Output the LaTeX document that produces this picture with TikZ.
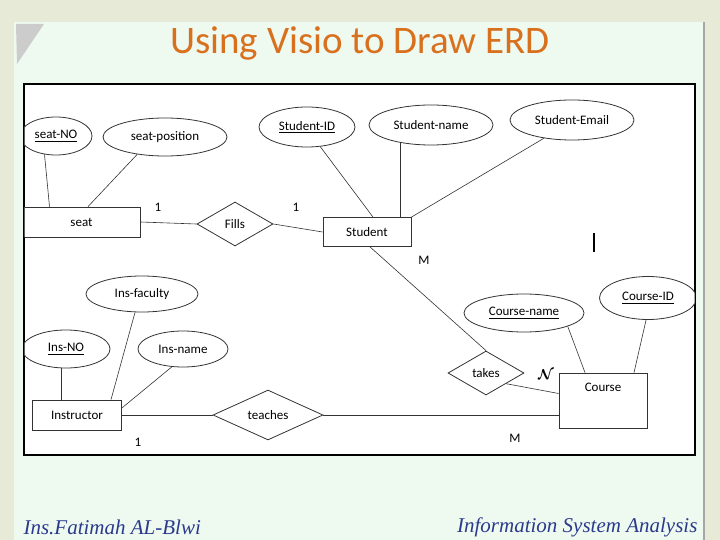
\documentclass[tikz,border=0pt]{standalone}
\usepackage{amsmath}
\usepackage{fontspec}
\setmainfont{Carlito}
\newfontfamily\footfont{Liberation Serif}
\usetikzlibrary{shapes.geometric,backgrounds}

\definecolor{slideMint}{HTML}{EEFAF0}
\definecolor{slideBeige}{HTML}{E6EAD6}
\definecolor{titleOrange}{HTML}{D9701E}
\definecolor{footNavy}{HTML}{2B3A8C}
\definecolor{lineGray}{HTML}{333333}

\begin{document}
\begin{tikzpicture}[
    x=1pt, y=-1pt,
    font=\fontsize{13}{15}\selectfont,
    attr/.style={ellipse, draw=lineGray, thick, fill=white, inner sep=0pt},
    entity/.style={rectangle, draw=lineGray, thick, fill=white, inner sep=0pt},
    rel/.style={diamond, draw=lineGray, thick, fill=white, inner sep=0pt},
    card/.style={inner sep=0pt},
    link/.style={draw=lineGray, semithick}
]

% -- slide background --
\useasboundingbox (0,0) rectangle (720,540);
\fill[slideBeige] (0,0) rectangle (720,540);
\fill[slideMint] (14,22) rectangle (704,540);
\draw[gray!70, line width=2pt] (704,22) -- (704,540);
\fill[gray!40] (16,24) -- (44,24) -- (17,64) -- cycle;

\node[text=titleOrange, font=\fontsize{39}{43}\selectfont] (title) at (360,43) {Using Visio to Draw ERD};

% -- diagram frame --
\node[draw=black, line width=2.5pt, fill=white, minimum width=671pt, minimum height=371pt, inner sep=0pt] (frame) at (359.5,269.5) {};

\begin{scope}
\clip (24.5,85) rectangle (694.5,454);

% -- entities --
\node[entity, minimum width=125pt, minimum height=30pt] (seat) at (77.5,222) {\hspace*{8pt}seat};
\node[entity, minimum width=88pt, minimum height=29pt] (student) at (367,232) {Student};
\node[entity, minimum width=89pt, minimum height=30pt] (instructor) at (77,415) {Instructor};
\node[entity, minimum width=88pt, minimum height=55pt, text depth=26pt] (course) at (603,400.5) {Course};

% -- relationships --
\node[rel, minimum width=76pt, minimum height=44pt] (fills) at (235,224) {Fills};
\node[rel, minimum width=76pt, minimum height=44pt] (takes) at (486,373) {takes};
\node[rel, minimum width=110pt, minimum height=44pt] (teaches) at (268,415) {teaches};

% -- attributes --
\node[attr, minimum width=72pt, minimum height=38pt] (seatNO) at (56,136) {\underline{seat-NO}};
\node[attr, minimum width=124pt, minimum height=38pt] (seatPosition) at (165,137) {seat-position};
\node[attr, minimum width=96pt, minimum height=40pt] (studentID) at (307,127) {\underline{Student-ID}};
\node[attr, minimum width=124pt, minimum height=40pt] (studentName) at (431,125) {Student-name};
\node[attr, minimum width=124pt, minimum height=40pt] (studentEmail) at (572,120) {Student-Email};
\node[attr, minimum width=112pt, minimum height=36pt] (insFaculty) at (142,294) {Ins-faculty};
\node[attr, minimum width=88pt, minimum height=38pt] (insNO) at (66,349) {\underline{Ins-NO}};
\node[attr, minimum width=90pt, minimum height=36pt] (insName) at (183,349) {Ins-name};
\node[attr, minimum width=120pt, minimum height=38pt] (courseName) at (524,313) {\underline{Course-name}};
\node[attr, minimum width=97pt, minimum height=43pt] (courseID) at (648,298) {\underline{Course-ID}};

% -- attribute links --
\draw[link] (seatNO.238) -- ([xshift=-28pt]seat.north);
\draw[link] (seatPosition.212) -- ([xshift=10.5pt]seat.north);
\draw[link] (studentID.-56) -- ([xshift=6pt]student.north);
\draw[link] (studentName.210) -- (studentName.210 |- student.north);
\draw[link] (studentEmail.213) -- (student.north east);
\draw[link] ([xshift=-5pt]insNO.south) -- ([xshift=-16pt]instructor.north);
\draw[link] ([xshift=-7pt]insFaculty.south) -- ([xshift=34pt]instructor.north);
\draw[link] (insName.238) -- ([yshift=7pt]instructor.east);
\draw[link] (courseName.-17) -- ([xshift=-18pt]course.north);
\draw[link] (courseID.-95) -- ([xshift=31pt]course.north);

% -- relationship links --
\draw[link] (seat.east) -- (fills.west);
\draw[link] (fills.east) -- (student.west);
\draw[link] ([xshift=3pt]student.south) -- (takes.north);
\draw[link] (takes.-28) -- ([yshift=7pt]course.west);
\draw[link] (instructor.east) -- (teaches.west);
\draw[link] (teaches.east) -- (teaches.east -| course.west);

% -- cardinalities --
\node[card] (cardSeatFills) at (158,207) {1};
\node[card] (cardStudentFills) at (296,207) {1};
\node[card] (cardStudentTakes) at (424,260) {M};
\node[card, font=\fontsize{15}{17}\selectfont] (cardCourseTakes) at (546,375) {$\boldsymbol{\mathcal{N}}$};
\node[card] (cardInstructor) at (138,442) {1};
\node[card] (cardCourseTeaches) at (515,438) {M};

% stray cursor mark
\draw[black, line width=1.6pt] (594,233) -- (594,252);
\end{scope}

% -- footer --
\node[anchor=west, text=footNavy, font=\footfont\itshape\fontsize{21}{24}\selectfont] (footAuthor) at (20,527) {Ins.Fatimah AL-Blwi};
\node[anchor=east, text=footNavy, font=\footfont\itshape\fontsize{21}{24}\selectfont] (footCourse) at (701,527) {Information System Analysis};

\end{tikzpicture}
\end{document}
